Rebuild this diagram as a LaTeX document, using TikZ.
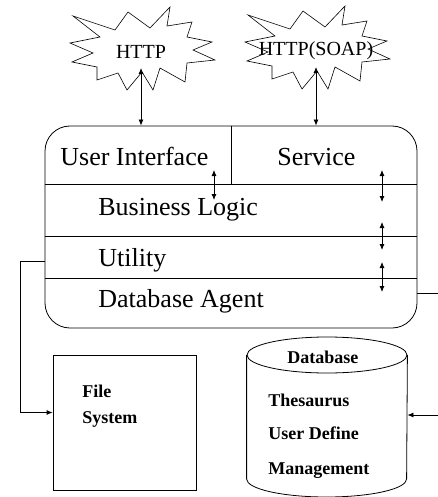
\documentclass[tikz,border=0pt]{standalone}
\usepackage{fontspec}
\setmainfont{Liberation Serif}
\usetikzlibrary{arrows.meta,positioning}

\begin{document}
\begin{tikzpicture}[
    x=1pt, y=-1pt,
    line width=0.8pt,
    proto/.style={inner sep=0pt, font=\fontsize{20}{24}\selectfont},
    layer/.style={anchor=base west, inner sep=0pt, font=\fontsize{26}{31}\selectfont},
    store/.style={anchor=base west, inner sep=0pt, font=\bfseries\fontsize{18}{22}\selectfont},
    dbl/.style={{Latex[length=6pt,width=5pt]}-{Latex[length=6pt,width=5pt]}},
    feed/.style={-{Latex[length=6pt,width=5pt]}}
  ]
    \useasboundingbox (0,0) rectangle (438,497);

    % protocols
    \node[proto] (http) at (141,52) {HTTP};
    \node[proto] (soap) at (316,51) {HTTP(SOAP)};
    \foreach \n in {http,soap}
      \draw[line width=0.6pt, shift={(\n.center)}] plot coordinates {
        (-68,-36) (-26,-22) (-13,-40) (9,-24) (29,-45) (26,-26) (51,-30) (46,-15)
        (71,-10) (52,-2) (74,8) (46,11) (44,30) (19,16) (12,38) (1,20)
        (-14,38) (-23,21) (-44,28) (-44,15) (-69,10) (-48,1) (-71,-9) (-41,-15)} -- cycle;

    % application core
    \node[draw, rounded corners=25pt, minimum width=372pt, minimum height=202pt] (core) at (231,227) {};
    \draw (core.north -| 231,0) -- (231,184);
    \draw (core.west |- 0,184) -- (core.east |- 0,184);
    \draw (core.west |- 0,236) -- (core.east |- 0,236);
    \draw (core.west |- 0,278) -- (core.east |- 0,278);

    \node[layer] (ui) at (60,165) {User Interface};
    \node[layer] (service) at (277,165) {Service};
    \node[layer] (logic) at (98,215) {Business Logic};
    \node[layer] (utility) at (98,266) {Utility};
    \node[layer] (agent) at (98,307) {Database Agent};

    \draw[dbl] ([yshift=-16pt]http.center) -- (http.center |- core.north);
    \draw[dbl] ([yshift=-16pt]soap.center) -- (soap.center |- core.north);

    \foreach \x/\a/\b in {214/170/200, 382/170/202, 382/222/250, 382/262/292}
      \draw[dbl] (\x,\a) -- (\x,\b);

    % storage
    \node[draw, minimum width=143pt, minimum height=135pt] (files) at (124.5,422.5) {};
    \node[store] (filelabel) at (82,397) {File};
    \node[store] at (82,423) {System};

    \node[minimum width=160pt, minimum height=160pt, inner sep=0pt] (db) at (327,417) {};
    \draw (db.north |- 0,355) ellipse (80 and 18);
    \draw (db.west |- 0,355) -- (db.west |- 0,479) arc (180:0:80 and 18) -- (db.east |- 0,355);
    \node[store] (dbtitle) at (287,363) {Database};
    \node[store] (thes) at (268,406) {Thesaurus};
    \node[store] (udef) at (268,439) {User Define};
    \node[store] (mgmt) at (268,474) {Management};

    \draw[feed] (core.west |- 0,261) -- (20,261) |- ([yshift=10pt]files.west);
    \draw[feed] (core.east |- 0,293) -- (445,293) |- (db.east |- 0,415);
\end{tikzpicture}
\end{document}
